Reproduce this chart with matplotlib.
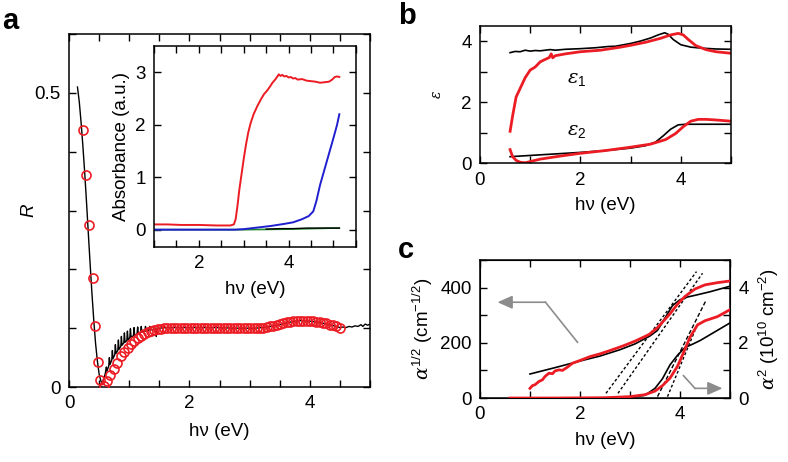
import matplotlib
matplotlib.use("Agg")
import matplotlib.pyplot as plt
from matplotlib.ticker import MultipleLocator

plt.rcParams['font.family'] = ['Liberation Sans', 'DejaVu Sans']
plt.rcParams['mathtext.fontset'] = 'custom'
plt.rcParams['mathtext.rm'] = 'Liberation Sans'
plt.rcParams['mathtext.it'] = 'DejaVu Serif:italic'
plt.rcParams['mathtext.sf'] = 'Liberation Sans'

RED = '#ec1c24'
BLUE = '#1f1fd0'
GREEN = '#1a8a2a'
GRAY = '#8c8c8c'

# ---------------- Panel a: reflectance ----------------
a_line_x = [0.14, 0.17, 0.20, 0.23, 0.26, 0.29, 0.32, 0.35, 0.38, 0.41, 0.44, 0.47, 0.50, 0.53, 0.55,
            0.57, 0.60, 0.62, 0.63, 0.66, 0.67, 0.68, 0.71, 0.72, 0.73, 0.76, 0.77, 0.78, 0.81, 0.82,
            0.83, 0.86, 0.87, 0.88, 0.91, 0.92, 0.93, 0.96, 0.97, 0.98, 1.01, 1.02, 1.03, 1.07, 1.08,
            1.09, 1.13, 1.14, 1.15, 1.19, 1.20, 1.21, 1.26, 1.27, 1.28, 1.33, 1.34, 1.35, 1.40, 1.42,
            1.44, 1.45, 1.46, 1.50, 1.60, 1.80, 2.00, 2.40, 2.80, 3.10, 3.30,
            3.50, 3.70, 3.85, 4.00, 4.20, 4.40, 4.50, 4.55, 4.60, 4.65, 4.70, 4.75, 4.80, 4.85, 4.88,
            4.92, 4.96, 5.00]
a_line_y = [0.510, 0.485, 0.450, 0.410, 0.365, 0.315, 0.262, 0.210, 0.160, 0.115, 0.075, 0.045, 0.022, 0.010, 0.006,
            0.012, 0.022, 0.034, 0.027, 0.036, 0.050, 0.038, 0.046, 0.062, 0.048, 0.055, 0.072, 0.057, 0.062, 0.080,
            0.064, 0.069, 0.086, 0.071, 0.075, 0.092, 0.076, 0.079, 0.095, 0.080, 0.084, 0.099, 0.085, 0.087, 0.101,
            0.088, 0.090, 0.102, 0.091, 0.093, 0.103, 0.093, 0.095, 0.103, 0.095, 0.097, 0.103, 0.097, 0.098, 0.102,
            0.097, 0.086, 0.099, 0.100, 0.101, 0.101, 0.101, 0.101, 0.100, 0.100, 0.102,
            0.106, 0.111, 0.113, 0.112, 0.109, 0.104, 0.101, 0.102, 0.101, 0.103, 0.102, 0.104, 0.103, 0.106, 0.103,
            0.107, 0.105, 0.107]

a_circ_x = [0.24, 0.285, 0.33, 0.39, 0.43, 0.475, 0.52, 0.585, 0.635, 0.685, 0.745, 0.805, 0.865, 0.92,
            0.975, 1.03, 1.085, 1.14, 1.195, 1.25, 1.305, 1.36, 1.415, 1.47, 1.525, 1.58, 1.635, 1.69,
            1.745, 1.80, 1.855, 1.91, 1.965, 2.02, 2.075, 2.13, 2.185, 2.24, 2.295, 2.35, 2.405, 2.46,
            2.515, 2.57, 2.625, 2.68, 2.735, 2.79, 2.845, 2.90, 2.955, 3.01, 3.065, 3.12, 3.175, 3.23,
            3.285, 3.34, 3.395, 3.45, 3.505, 3.56, 3.615, 3.67, 3.725, 3.78, 3.835, 3.89, 3.945, 4.00,
            4.055, 4.11, 4.165, 4.22, 4.275, 4.33, 4.385, 4.44, 4.495]
a_circ_y = [0.437, 0.360, 0.275, 0.186, 0.104, 0.043, 0.012, 0.001, 0.010, 0.020, 0.030, 0.041, 0.052, 0.060,
            0.067, 0.073, 0.079, 0.083, 0.087, 0.090, 0.093, 0.095, 0.097, 0.098, 0.099, 0.100, 0.100, 0.100,
            0.100, 0.100, 0.100, 0.100, 0.100, 0.100, 0.100, 0.100, 0.100, 0.100, 0.100, 0.100, 0.100, 0.100,
            0.100, 0.100, 0.100, 0.100, 0.100, 0.100, 0.100, 0.100, 0.100, 0.100, 0.100, 0.100, 0.1005, 0.101,
            0.102, 0.103, 0.104, 0.105, 0.107, 0.109, 0.110, 0.111, 0.112, 0.113, 0.113, 0.113, 0.113, 0.112,
            0.112, 0.111, 0.110, 0.109, 0.108, 0.106, 0.105, 0.103, 0.101]

# inset: absorbance
ins_red_x = [1.00, 1.30, 1.60, 2.00, 2.40, 2.70, 2.78, 2.82, 2.86, 2.90, 2.95, 3.00, 3.05, 3.10, 3.15,
             3.22, 3.30, 3.38, 3.45, 3.52, 3.58, 3.64, 3.70, 3.75, 3.78, 3.82, 3.86, 3.90, 3.95, 4.00,
             4.05, 4.10, 4.15, 4.20, 4.30, 4.40, 4.50, 4.60, 4.70, 4.80, 4.90, 4.97, 5.03, 5.08, 5.13]
ins_red_y = [0.10, 0.10, 0.09, 0.09, 0.08, 0.08, 0.10, 0.20, 0.45, 0.75, 1.05, 1.35, 1.62, 1.85, 2.02,
             2.20, 2.35, 2.48, 2.58, 2.65, 2.72, 2.80, 2.86, 2.92, 2.96, 2.93, 2.95, 2.92, 2.93, 2.90,
             2.91, 2.88, 2.89, 2.86, 2.87, 2.84, 2.83, 2.82, 2.80, 2.81, 2.82, 2.86, 2.91, 2.92, 2.91]
ins_blue_x = [1.00, 2.00, 2.80, 3.00, 3.30, 3.60, 3.90, 4.10, 4.30, 4.45, 4.55, 4.62, 4.70, 4.80, 4.90,
              5.00, 5.08, 5.13]
ins_blue_y = [0.00, 0.00, 0.00, 0.01, 0.04, 0.07, 0.11, 0.14, 0.20, 0.26, 0.35, 0.55, 0.85, 1.15, 1.45,
              1.75, 2.00, 2.20]
ins_black_x = [3.50, 3.80, 4.10, 4.40, 4.60, 4.80, 5.00, 5.13]
ins_black_y = [0.01, 0.02, 0.02, 0.03, 0.03, 0.03, 0.03, 0.03]
ins_green_x = [1.00, 2.00, 3.00, 4.00, 4.50, 5.00, 5.13]
ins_green_y = [0.00, 0.00, 0.00, 0.01, 0.02, 0.03, 0.03]

# ---------------- Panel b: dielectric function ----------------
e1_blk_x = [0.60, 0.70, 0.80, 0.90, 1.00, 1.10, 1.20, 1.30, 1.40, 1.50, 1.70, 2.00, 2.30, 2.55, 2.70,
            3.00, 3.20, 3.40, 3.55, 3.68, 3.75, 3.85, 4.00, 4.20, 4.40, 4.70, 5.00]
e1_blk_y = [3.62, 3.66, 3.65, 3.70, 3.67, 3.69, 3.68, 3.70, 3.72, 3.70, 3.73, 3.75, 3.78, 3.82, 3.83,
            3.92, 4.00, 4.10, 4.20, 4.27, 4.22, 4.05, 3.88, 3.80, 3.77, 3.74, 3.73]
e1_red_x = [0.60, 0.65, 0.72, 0.80, 0.90, 1.00, 1.10, 1.20, 1.30, 1.38, 1.42, 1.45, 1.50, 1.70, 2.00,
            2.40, 2.80, 3.00, 3.30, 3.60, 3.80, 3.95, 4.05, 4.15, 4.30, 4.50, 4.70, 5.00]
e1_red_y = [1.05, 1.55, 2.17, 2.45, 2.80, 3.05, 3.15, 3.32, 3.40, 3.46, 3.58, 3.45, 3.52, 3.58, 3.65,
            3.70, 3.80, 3.86, 3.96, 4.09, 4.20, 4.25, 4.20, 4.05, 3.85, 3.72, 3.65, 3.60]
e2_blk_x = [0.60, 1.00, 1.50, 2.00, 2.50, 3.00, 3.30, 3.50, 3.65, 3.80, 3.95, 4.10, 4.50, 5.00]
e2_blk_y = [0.22, 0.26, 0.31, 0.36, 0.42, 0.50, 0.58, 0.70, 0.90, 1.12, 1.26, 1.28, 1.28, 1.28]
e2_red_x = [0.60, 0.65, 0.72, 0.80, 0.90, 1.00, 1.20, 1.60, 2.00, 2.50, 3.00, 3.40, 3.70, 3.90, 4.05,
            4.20, 4.35, 4.50, 4.70, 5.00]
e2_red_y = [0.45, 0.22, 0.10, 0.04, 0.02, 0.06, 0.14, 0.24, 0.33, 0.42, 0.53, 0.63, 0.78, 0.98, 1.20,
            1.38, 1.44, 1.44, 1.42, 1.38]

# ---------------- Panel c: absorption edges ----------------
sq_blk_x = [1.00, 1.50, 2.00, 2.40, 2.80, 3.10, 3.40, 3.55, 3.70, 3.85, 4.00, 4.15, 4.30, 4.60, 5.00]
sq_blk_y = [87, 110, 134, 152, 175, 196, 225, 245, 290, 335, 356, 366, 372, 385, 405]
sq_red_x = [1.00, 1.05, 1.10, 1.18, 1.25, 1.30, 1.38, 1.45, 1.50, 1.58, 1.65, 1.75, 1.85, 2.00, 2.20,
            2.40, 2.60, 2.85, 3.10, 3.38, 3.55, 3.70, 3.80, 3.95, 4.10, 4.30, 4.50, 4.75, 5.00]
sq_red_y = [35, 45, 48, 60, 66, 78, 90, 88, 98, 102, 100, 112, 126, 136, 150,
            160, 172, 188, 206, 230, 255, 285, 305, 340, 368, 395, 410, 418, 424]
sqr_blk_x = [1.00, 2.00, 3.00, 3.30, 3.50, 3.65, 3.80, 3.95, 4.10, 4.25, 4.40, 4.70, 5.00]
sqr_blk_y = [0.00, 0.00, 0.02, 0.10, 0.35, 0.70, 1.20, 1.55, 1.83, 1.95, 2.08, 2.40, 2.72]
sqr_red_x = [0.60, 1.50, 2.50, 3.00, 3.30, 3.50, 3.65, 3.80, 3.95, 4.05, 4.20, 4.35, 4.50, 4.75, 5.00]
sqr_red_y = [0.00, 0.00, 0.01, 0.05, 0.12, 0.25, 0.45, 0.72, 1.15, 1.56, 2.20, 2.65, 2.80, 2.95, 3.20]
fit_sqrt1_x = [2.52, 4.33]
fit_sqrt1_y = [17, 458]
fit_sqrt2_x = [2.76, 4.45]
fit_sqrt2_y = [17, 452]
fit_sq1_x = [3.55, 4.51]
fit_sq1_y = [0.05, 3.50]
fit_sq2_x = [3.75, 4.30]
fit_sq2_y = [0.05, 2.45]
arrow_left_x = [1.95, 1.31, 0.35]
arrow_left_y = [202, 347, 347]
arrow_right_x = [4.07, 4.30, 4.85]
arrow_right_y = [0.81, 0.35, 0.35]

FS = 13.5

fig = plt.figure(figsize=(7.88, 4.62), dpi=100)


def style(ax, right=True, top=True):
    ax.tick_params(which='both', direction='in', length=5, width=1, top=top, right=right,
                   labelsize=FS, pad=6)
    for s in ax.spines.values():
        s.set_linewidth(1.1)


# Panel a
axa = fig.add_axes([0.0876, 0.1623, 0.382, 0.764])
axa.plot(a_line_x, a_line_y, color='black', lw=1.0, zorder=2)
axa.plot(a_circ_x, a_circ_y, 'o', mfc='none', mec=RED, mew=1.2, ms=6.5, zorder=3)
axa.set_xlim(0, 5)
axa.set_ylim(0, 0.6)
axa.set_xticks([0, 2, 4])
axa.xaxis.set_minor_locator(MultipleLocator(0.5))
axa.set_yticks([0, 0.5])
axa.set_yticklabels(['0', '0.5'])
axa.yaxis.set_minor_locator(MultipleLocator(0.1))
style(axa)
axa.set_xlabel('hν (eV)', fontsize=FS, labelpad=8)
axa.set_ylabel('R', fontsize=FS, style='italic')
axa.yaxis.set_label_coords(-0.105, 0.5)

# Inset
axi = fig.add_axes([0.1954, 0.4654, 0.2563, 0.435])
axi.plot(ins_green_x, ins_green_y, color=GREEN, lw=1.2)
axi.plot(ins_black_x, ins_black_y, color='black', lw=1.0)
axi.plot(ins_blue_x, ins_blue_y, color=BLUE, lw=1.4)
axi.plot(ins_red_x, ins_red_y, color=RED, lw=1.4)
axi.set_xlim(1.0, 5.5)
axi.set_ylim(-0.33, 3.5)
axi.set_xticks([2, 4])
axi.xaxis.set_minor_locator(MultipleLocator(0.5))
axi.set_yticks([0, 1, 2, 3])
style(axi)
axi.set_xlabel('hν (eV)', fontsize=FS, labelpad=6)
axi.set_ylabel('Absorbance (a.u.)', fontsize=FS, labelpad=4)

# Panel b
axb = fig.add_axes([0.6091, 0.6463, 0.3185, 0.298])
axb.plot(e1_blk_x, e1_blk_y, color='black', lw=1.2)
axb.plot(e2_blk_x, e2_blk_y, color='black', lw=1.2)
axb.plot(e1_red_x, e1_red_y, color=RED, lw=2.0)
axb.plot(e2_red_x, e2_red_y, color=RED, lw=2.0)
axb.set_xlim(0, 5)
axb.set_ylim(0, 4.5)
axb.set_xticks([0, 2, 4])
axb.xaxis.set_minor_locator(MultipleLocator(1))
axb.set_yticks([0, 2, 4])
axb.yaxis.set_minor_locator(MultipleLocator(1))
style(axb)
axb.set_xlabel('hν (eV)', fontsize=FS, labelpad=6)
axb.set_ylabel(r'$\varepsilon$', fontsize=10, labelpad=12)
axb.text(1.93, 2.75, r'$\varepsilon_{1}$', fontsize=14, ha='center', va='center')
axb.text(1.93, 1.05, r'$\varepsilon_{2}$', fontsize=14, ha='center', va='center')

# Panel c
axc = fig.add_axes([0.6091, 0.1385, 0.3173, 0.2987])
axc2 = axc.twinx()
axc.plot(sq_blk_x, sq_blk_y, color='black', lw=1.2, zorder=3)
axc.plot(sq_red_x, sq_red_y, color=RED, lw=2.0, zorder=4)
axc.plot(fit_sqrt1_x, fit_sqrt1_y, color='black', lw=1.0, ls=(0, (2, 1.6)), zorder=2)
axc.plot(fit_sqrt2_x, fit_sqrt2_y, color='black', lw=1.0, ls=(0, (2, 1.6)), zorder=2)
axc.annotate('', xy=(arrow_left_x[-1], arrow_left_y[-1]), xytext=(arrow_left_x[1], arrow_left_y[1]),
             arrowprops=dict(arrowstyle='-|>,head_length=0.9,head_width=0.4', color=GRAY, lw=1.2,
                             shrinkA=0, shrinkB=0))
axc.plot(arrow_left_x[:2], arrow_left_y[:2], color=GRAY, lw=1.2)
axc2.plot(sqr_blk_x, sqr_blk_y, color='black', lw=1.2, zorder=3)
axc2.plot(sqr_red_x, sqr_red_y, color=RED, lw=2.0, zorder=4)
axc2.plot(fit_sq1_x, fit_sq1_y, color='black', lw=1.0, ls=(0, (3, 1.6)), zorder=2)
axc2.plot(fit_sq2_x, fit_sq2_y, color='black', lw=1.0, ls=(0, (2, 1.6)), zorder=2)
axc2.annotate('', xy=(arrow_right_x[-1], arrow_right_y[-1]), xytext=(arrow_right_x[1], arrow_right_y[1]),
              arrowprops=dict(arrowstyle='-|>,head_length=0.9,head_width=0.4', color=GRAY, lw=1.2,
                              shrinkA=0, shrinkB=0))
axc2.plot(arrow_right_x[:2], arrow_right_y[:2], color=GRAY, lw=1.2)
axc.set_xlim(0, 5)
axc.set_ylim(0, 500)
axc2.set_ylim(0, 5)
axc.set_xticks([0, 2, 4])
axc.xaxis.set_minor_locator(MultipleLocator(1))
axc.set_yticks([0, 200, 400])
axc.yaxis.set_minor_locator(MultipleLocator(100))
axc2.set_yticks([0, 2, 4])
axc2.yaxis.set_minor_locator(MultipleLocator(1))
style(axc, right=False)
axc2.tick_params(which='both', direction='in', length=5, width=1, labelsize=FS, pad=6)
axc.set_xlabel('hν (eV)', fontsize=FS, labelpad=6)
axc.set_ylabel(r'$\alpha^{1/2}$ (cm$^{-1/2}$)', fontsize=FS, labelpad=4)
axc2.set_ylabel(r'$\alpha^{2}$ (10$^{10}$ cm$^{-2}$)', fontsize=FS, labelpad=6, rotation=90)

# Panel letters
fig.text(0.003, 0.985, 'a', fontsize=21, fontweight='bold', va='top', ha='left')
fig.text(0.505, 0.995, 'b', fontsize=21, fontweight='bold', va='top', ha='left')
fig.text(0.505, 0.49, 'c', fontsize=21, fontweight='bold', va='top', ha='left')

fig.savefig('out.png', dpi=100)
